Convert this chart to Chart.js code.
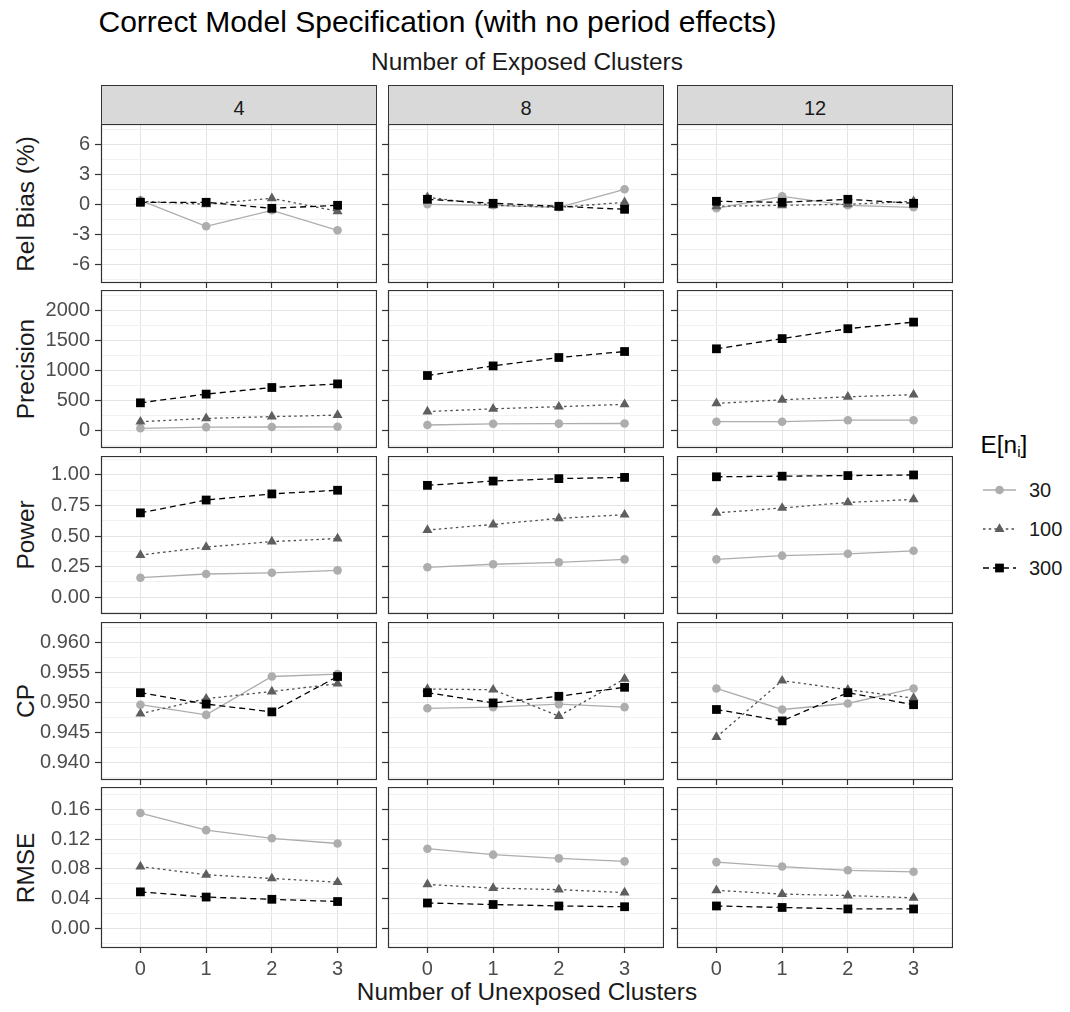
<!DOCTYPE html>
<html>
<head>
<meta charset="utf-8">
<script src="https://cdn.jsdelivr.net/npm/chart.js"></script>
<style>
  html, body { margin: 0; padding: 0; background: #ffffff; }
  body { width: 1070px; height: 1012px; position: relative; overflow: hidden;
         font-family: "Liberation Sans", Arial, sans-serif; }
  .t { position: absolute; white-space: nowrap; line-height: 1; }
  .strip { position: absolute; box-sizing: border-box; background: #D9D9D9; border: 1.2px solid #333333; }
  canvas { position: absolute; }
</style>
</head>
<body>
<script>
// ---------------- data ----------------
const unexposedClusters = [0, 1, 2, 3];
const exposedClusters = ['4', '8', '12'];
const measureLabels = ['Rel Bias (%)', 'Precision', 'Power', 'CP', 'RMSE'];
const seriesLabels = ['30', '100', '300'];

// each array: one row per exposed-cluster panel (4, 8, 12); values at 0..3 unexposed clusters
const relBias30  = [[0.4, -2.2, -0.6, -2.6], [0.0, -0.1, -0.3, 1.5], [-0.4, 0.8, -0.1, -0.3]];
const relBias100 = [[0.3, 0.0, 0.6, -0.7], [0.7, -0.1, -0.3, 0.2], [-0.2, -0.1, 0.0, 0.3]];
const relBias300 = [[0.2, 0.2, -0.4, -0.1], [0.5, 0.1, -0.2, -0.5], [0.3, 0.2, 0.5, 0.1]];

const precision30  = [[40, 60, 62, 65], [95, 115, 118, 120], [150, 150, 175, 175]];
const precision100 = [[150, 205, 235, 260], [320, 365, 400, 440], [455, 515, 565, 600]];
const precision300 = [[465, 610, 720, 780], [920, 1080, 1220, 1320], [1365, 1535, 1700, 1810]];

const power30  = [[0.16, 0.19, 0.20, 0.22], [0.245, 0.27, 0.285, 0.31], [0.31, 0.34, 0.355, 0.38]];
const power100 = [[0.345, 0.41, 0.455, 0.48], [0.55, 0.595, 0.645, 0.675], [0.69, 0.73, 0.775, 0.80]];
const power300 = [[0.69, 0.795, 0.845, 0.875], [0.915, 0.95, 0.97, 0.98], [0.985, 0.99, 0.995, 1.0]];

const cp30  = [[0.9496, 0.9479, 0.9543, 0.9547], [0.9490, 0.9492, 0.9497, 0.9492], [0.9523, 0.9488, 0.9498, 0.9523]];
const cp100 = [[0.9481, 0.9506, 0.9518, 0.9531], [0.9522, 0.9521, 0.9477, 0.9539], [0.9442, 0.9536, 0.9521, 0.9507]];
const cp300 = [[0.9516, 0.9497, 0.9484, 0.9543], [0.9516, 0.9499, 0.9510, 0.9525], [0.9488, 0.9469, 0.9516, 0.9496]];

const rmse30  = [[0.155, 0.132, 0.121, 0.114], [0.107, 0.099, 0.094, 0.090], [0.089, 0.083, 0.078, 0.076]];
const rmse100 = [[0.083, 0.072, 0.067, 0.062], [0.059, 0.054, 0.052, 0.048], [0.051, 0.046, 0.044, 0.041]];
const rmse300 = [[0.049, 0.042, 0.039, 0.036], [0.034, 0.032, 0.030, 0.029], [0.030, 0.028, 0.026, 0.026]];

// y-axis tick labels per measure
const relBiasTicks   = [-6, -3, 0, 3, 6];
const precisionTicks = [0, 500, 1000, 1500, 2000];
const powerTicks     = [0, 0.25, 0.5, 0.75, 1.0];
const cpTicks        = [0.940, 0.945, 0.950, 0.955, 0.960];
const rmseTicks      = [0, 0.04, 0.08, 0.12, 0.16];
const tickDecimals   = [0, 0, 2, 3, 2];
const yMin = [-7.87, -288, -0.137, 0.93705, -0.0265];
const yMax = [8.03, 2345, 1.155, 0.96338, 0.19];

// ---------------- layout & style ----------------
const FONT = '"Liberation Sans", Arial, sans-serif';
const colLeft = [101, 388, 677];
const panelW = 276;
const rowTop = [124, 290, 456, 622, 787];
const rowH = [159, 158, 158, 158, 161];
const GRID_MAJOR = '#E4E4E4';
const GRID_MINOR = '#F1F1F1';
const FRAME = '#333333';
const seriesStyle = [
  { color: '#ADADAD', lineColor: '#ADADAD', dash: [], pointStyle: 'circle', radius: 4.3 },
  { color: '#5E5E5E', lineColor: '#4F4F4F', dash: [2.5, 3.2], pointStyle: 'triangle', radius: 5.8 },
  { color: '#000000', lineColor: '#000000', dash: [6, 4], pointStyle: 'rect', radius: 6.2 }
];

const rowSeries = [
  [relBias30, relBias100, relBias300],
  [precision30, precision100, precision300],
  [power30, power100, power300],
  [cp30, cp100, cp300],
  [rmse30, rmse100, rmse300]
];
const rowTicks = [relBiasTicks, precisionTicks, powerTicks, cpTicks, rmseTicks];

function buildYTicks(r) {
  const maj = rowTicks[r];
  const step = maj[1] - maj[0];
  const list = [];
  const lowMinor = maj[0] - step / 2;
  if (lowMinor > yMin[r]) list.push({ value: lowMinor, minor: true });
  maj.forEach((v, i) => {
    list.push({ value: v, minor: false });
    const m = (i < maj.length - 1) ? (v + maj[i + 1]) / 2 : v + step / 2;
    if (m < yMax[r]) list.push({ value: m, minor: true });
  });
  return list;
}

function zeroPad(s) { s.paddingLeft = 0; s.paddingRight = 0; s.paddingTop = 0; s.paddingBottom = 0; }

const framePlugin = {
  id: 'frame',
  afterDraw(chart) {
    const { ctx, chartArea: a } = chart;
    ctx.save();
    ctx.strokeStyle = FRAME;
    ctx.lineWidth = 1.2;
    ctx.strokeRect(a.left + 0.5, a.top + 0.5, a.right - a.left - 1, a.bottom - a.top - 1);
    ctx.restore();
  }
};

function addText(txt, x, y, size, opts = {}) {
  const d = document.createElement('div');
  d.className = 't';
  d.innerHTML = txt;
  d.style.fontSize = size + 'px';
  d.style.color = opts.color || '#000000';
  d.style.left = x + 'px';
  d.style.top = y + 'px';
  let tf = '';
  if (opts.center) tf += 'translate(-50%,-50%) ';
  else if (opts.vcenter) tf += 'translate(0,-50%) ';
  if (opts.rotate) tf += 'rotate(-90deg)';
  if (tf) d.style.transform = tf;
  document.body.appendChild(d);
  return d;
}

function makePanel(r, c) {
  const axW = c === 0 ? 101 : 7;
  const axH = r === 4 ? 42 : 6;
  const w = axW + panelW;
  const h = rowH[r] + axH;
  const cv = document.createElement('canvas');
  cv.width = w; cv.height = h;
  cv.style.left = (colLeft[c] - axW) + 'px';
  cv.style.top = rowTop[r] + 'px';
  cv.style.width = w + 'px';
  cv.style.height = h + 'px';
  document.body.appendChild(cv);

  const datasets = [];
  rowSeries[r].forEach((arr, k) => {
    const st = seriesStyle[k];
    const pts = unexposedClusters.map((u, i) => ({ x: u, y: arr[c][i] }));
    datasets.push({
      label: seriesLabels[k] + '-line', data: pts, order: 12 - k,
      borderColor: st.lineColor, borderWidth: 1.3, borderDash: st.dash,
      pointRadius: 0, fill: false, tension: 0
    });
    datasets.push({
      label: seriesLabels[k], data: pts, order: 2 - k, showLine: false,
      pointStyle: st.pointStyle, pointRadius: st.radius,
      pointBackgroundColor: st.color, pointBorderColor: st.color, pointBorderWidth: 0
    });
  });

  const yList = buildYTicks(r);
  const dec = tickDecimals[r];
  new Chart(cv, {
    type: 'line',
    data: { datasets },
    options: {
      responsive: false, animation: false, devicePixelRatio: 1, events: [],
      layout: { padding: 0, autoPadding: false },
      plugins: { legend: { display: false }, tooltip: { enabled: false }, title: { display: false } },
      scales: {
        x: {
          type: 'linear', min: -0.6, max: 3.6,
          afterBuildTicks: s => { s.ticks = unexposedClusters.map(v => ({ value: v })); },
          afterFit: s => { s.height = axH; zeroPad(s); },
          grid: { color: GRID_MAJOR, lineWidth: 1, drawTicks: true, tickLength: 5, tickColor: FRAME, tickWidth: 1.2 },
          border: { display: false },
          ticks: {
            display: r === 4, autoSkip: false, maxRotation: 0, minRotation: 0, padding: 4,
            color: '#4D4D4D', font: { family: FONT, size: 20 },
            callback: v => String(v)
          }
        },
        y: {
          type: 'linear', min: yMin[r], max: yMax[r],
          afterBuildTicks: s => { s.ticks = yList.map(t => ({ value: t.value, minor: t.minor })); },
          afterFit: s => { s.width = axW; zeroPad(s); },
          grid: {
            color: ctx => (ctx.tick && ctx.tick.minor) ? GRID_MINOR : GRID_MAJOR,
            lineWidth: 1, drawTicks: true, tickLength: 6,
            tickColor: ctx => (ctx.tick && ctx.tick.minor) ? 'rgba(0,0,0,0)' : FRAME,
            tickWidth: 1.2
          },
          border: { display: false },
          ticks: {
            display: c === 0, autoSkip: false, padding: 5,
            color: '#4D4D4D', font: { family: FONT, size: 20 },
            callback: (v, i, ticks) => ticks[i].minor ? '' : (Math.abs(v) < 1e-12 ? (0).toFixed(dec) : v.toFixed(dec))
          }
        }
      }
    },
    plugins: [framePlugin]
  });
}

// ---------------- titles & strips ----------------
addText('Correct Model Specification (with no period effects)', 98.5, 6.5, 30, { color: '#000000' });
addText('Number of Exposed Clusters', 527, 62, 24.4, { center: true, color: '#1A1A1A' });
addText('Number of Unexposed Clusters', 527, 991.5, 24.4, { center: true, color: '#1A1A1A' });

exposedClusters.forEach((lab, c) => {
  const s = document.createElement('div');
  s.className = 'strip';
  s.style.left = colLeft[c] + 'px';
  s.style.top = '85px';
  s.style.width = panelW + 'px';
  s.style.height = '40px';
  document.body.appendChild(s);
  addText(lab, colLeft[c] + panelW / 2, 107.5, 20, { center: true, color: '#1A1A1A' });
});

measureLabels.forEach((lab, r) => {
  addText(lab, 26, rowTop[r] + rowH[r] / 2, 24.4, { center: true, rotate: true, color: '#1A1A1A' });
});

for (let r = 0; r < 5; r++) for (let c = 0; c < 3; c++) makePanel(r, c);

// ---------------- legend ----------------
addText('E[n<sub style="font-size:0.62em;vertical-align:-0.28em;">i</sub>]', 980.5, 446, 24.4, { vcenter: true, color: '#000000' });
const legendY = [490, 529, 568];
seriesLabels.forEach((lab, k) => {
  const st = seriesStyle[k];
  const cv = document.createElement('canvas');
  cv.width = 40; cv.height = 30;
  cv.style.left = '980px';
  cv.style.top = (legendY[k] - 15) + 'px';
  cv.style.width = '40px'; cv.style.height = '30px';
  document.body.appendChild(cv);
  const ctx = cv.getContext('2d');
  ctx.strokeStyle = st.lineColor;
  ctx.lineWidth = 1.3;
  ctx.setLineDash(st.dash);
  ctx.beginPath(); ctx.moveTo(3, 15); ctx.lineTo(36, 15); ctx.stroke();
  ctx.setLineDash([]);
  ctx.fillStyle = st.color;
  const x = 19.5, y = 15, rad = st.radius;
  ctx.beginPath();
  if (st.pointStyle === 'circle') {
    ctx.arc(x, y, rad, 0, Math.PI * 2);
  } else if (st.pointStyle === 'triangle') {
    ctx.moveTo(x, y - rad);
    ctx.lineTo(x + Math.sin(2 * Math.PI / 3) * rad, y - Math.cos(2 * Math.PI / 3) * rad);
    ctx.lineTo(x + Math.sin(4 * Math.PI / 3) * rad, y - Math.cos(4 * Math.PI / 3) * rad);
    ctx.closePath();
  } else {
    const sz = Math.SQRT1_2 * rad;
    ctx.rect(x - sz, y - sz, 2 * sz, 2 * sz);
  }
  ctx.fill();
  addText(lab, 1029, legendY[k], 20, { vcenter: true, color: '#1A1A1A' });
});
</script>
</body>
</html>
